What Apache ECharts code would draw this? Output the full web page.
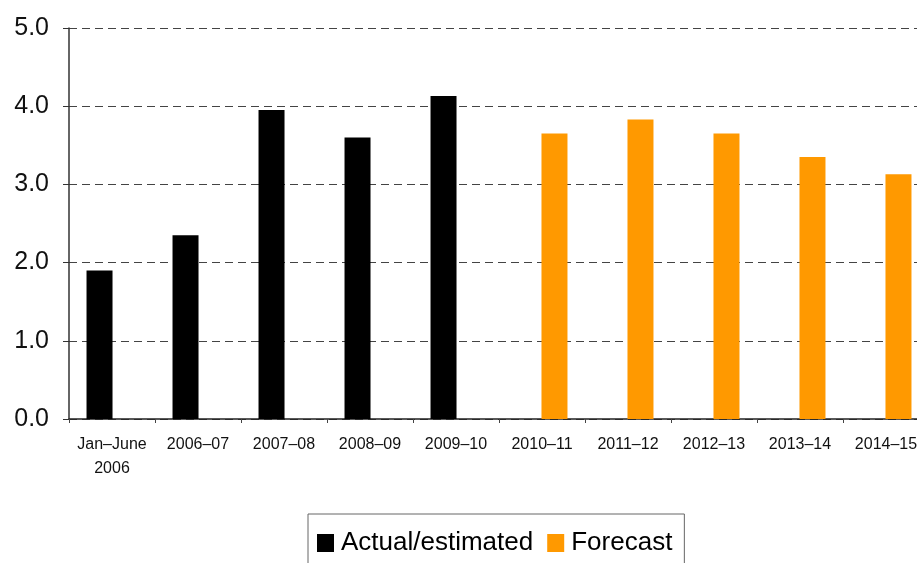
<!DOCTYPE html>
<html>
<head>
<meta charset="utf-8">
<script src="https://cdn.jsdelivr.net/npm/echarts@6/dist/echarts.min.js"></script>
<style>
  html, body { margin: 0; padding: 0; background: #fff; overflow: hidden; }
  /* the plot in the original runs a little past the right edge of the picture */
  #chart { width: 929px; height: 563px; }
</style>
</head>
<body>
<div id="chart"></div>
<script>
const categories = ['Jan–June\n2006', '2006–07', '2007–08', '2008–09', '2009–10',
  '2010–11', '2011–12', '2012–13', '2013–14', '2014–15'];
const actualValues = [1.9, 2.35, 3.95, 3.6, 4.13, null, null, null, null, null];
const forecastValues = [null, null, null, null, null, 3.65, 3.83, 3.65, 3.35, 3.13];
const yTicks = [0, 1, 2, 3, 4, 5];

const FONT = '"Liberation Sans", Arial, sans-serif';
const chart = echarts.init(document.getElementById('chart'));

chart.setOption({
  backgroundColor: '#fff',
  animation: false,
  textStyle: { fontFamily: FONT },
  grid: { left: 69, right: 0, top: 28, bottom: 144 },
  legend: {
    left: 308,
    top: 514,
    orient: 'horizontal',
    itemWidth: 17,
    itemHeight: 18,
    itemGap: 14,
    padding: [16, 12, 16, 9],
    borderColor: '#666',
    borderWidth: 1,
    icon: 'rect',
    textStyle: { fontSize: 26, color: '#000', fontFamily: FONT, padding: [0, 0, 0, 2] },
    data: ['Actual/estimated', 'Forecast'],
  },
  xAxis: {
    type: 'category',
    data: categories,
    axisLine: { lineStyle: { color: '#222', width: 1.5 } },
    axisTick: { show: true, length: 4, lineStyle: { color: '#444' } },
    axisLabel: {
      color: '#111',
      fontSize: 16,
      lineHeight: 24,
      margin: 14,
      interval: 0,
      fontFamily: FONT,
    },
  },
  yAxis: {
    type: 'value',
    min: yTicks[0],
    max: yTicks[yTicks.length - 1],
    interval: 1,
    axisLine: { show: true, lineStyle: { color: '#333', width: 1.5 } },
    axisTick: { show: true, length: 6, lineStyle: { color: '#333' } },
    axisLabel: {
      color: '#111',
      fontSize: 25,
      margin: 20,
      fontFamily: FONT,
      formatter: (v) => v.toFixed(1),
    },
    splitLine: { lineStyle: { color: '#444', type: [8, 5], width: 1 } },
  },
  series: [
    {
      name: 'Actual/estimated',
      type: 'bar',
      data: actualValues,
      barWidth: 26,
      barGap: '-4%',
      itemStyle: { color: '#000' },
    },
    {
      name: 'Forecast',
      type: 'bar',
      data: forecastValues,
      barWidth: 26,
      itemStyle: { color: '#ff9900' },
    },
  ],
});
</script>
</body>
</html>
